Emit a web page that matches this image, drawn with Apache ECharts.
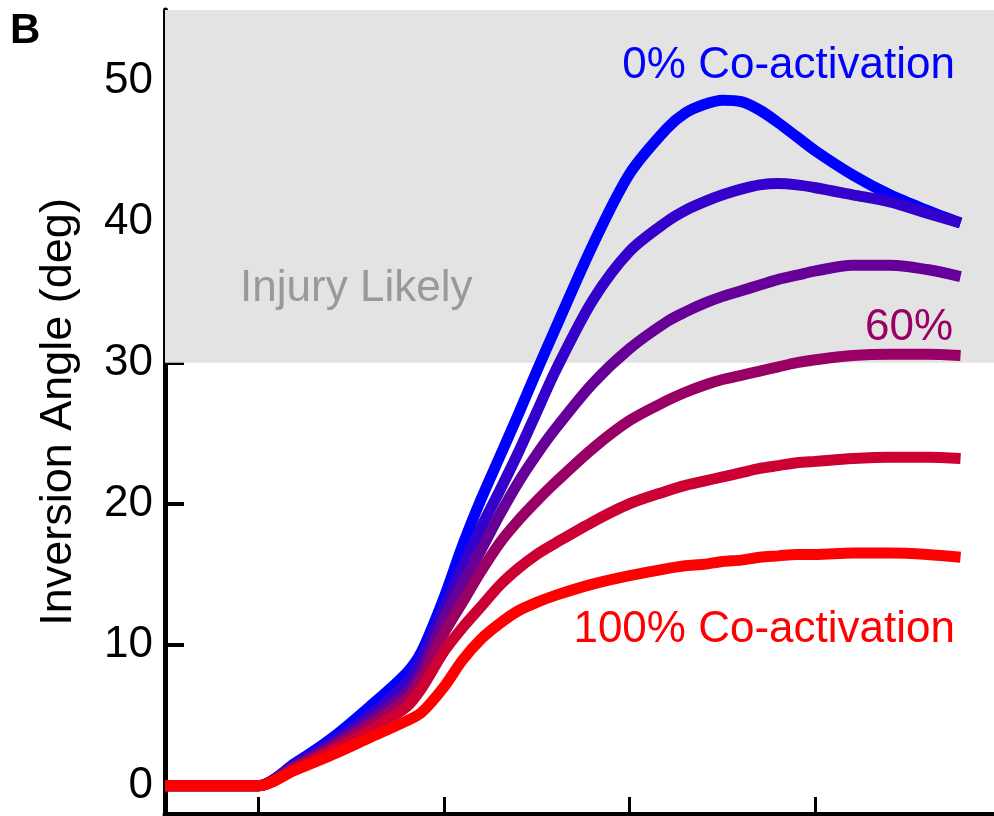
<!DOCTYPE html>
<html>
<head>
<meta charset="utf-8">
<script src="https://cdn.jsdelivr.net/npm/echarts@6/dist/echarts.min.js"></script>
<style>
html,body{margin:0;padding:0;background:#fff;}
#chart{width:994px;height:816px;}
</style>
</head>
<body>
<div id="chart"></div>
<script>
// x positions (time units; ticks at 0, 50, 100, 150)
const xValues = [-25, 0, 10, 20, 30, 40, 44, 50, 55, 60, 65, 70, 75, 80, 90, 100, 110, 115, 120, 125, 130, 135, 140, 145, 150, 160, 170, 180, 189];
const coact0   = [0, 0, 1.6, 3.4, 5.6, 8.0, 9.5, 13.3, 17.0, 20.3, 23.3, 26.3, 29.4, 32.4, 38.3, 43.4, 46.6, 47.7, 48.3, 48.6, 48.5, 47.9, 47.0, 46.0, 45.0, 43.3, 41.9, 40.8, 39.9];
const coact20  = [0, 0, 1.5, 3.1, 5.0, 7.3, 9.0, 12.6, 15.5, 18.3, 20.9, 23.6, 26.5, 29.4, 34.4, 37.9, 40.0, 40.8, 41.4, 41.9, 42.3, 42.6, 42.7, 42.6, 42.4, 41.9, 41.4, 40.6, 39.9];
const coact40  = [0, 0, 1.4, 2.9, 4.6, 6.6, 8.1, 11.8, 14.3, 16.7, 19.2, 21.5, 23.5, 25.3, 28.5, 31.0, 32.9, 33.6, 34.2, 34.7, 35.1, 35.5, 35.9, 36.2, 36.5, 36.9, 36.9, 36.6, 36.1];
const coact60  = [0, 0, 1.3, 2.7, 4.3, 6.2, 7.6, 10.8, 13.0, 15.2, 17.2, 18.8, 20.2, 21.5, 23.9, 25.9, 27.3, 27.9, 28.4, 28.8, 29.1, 29.4, 29.7, 30.0, 30.2, 30.5, 30.6, 30.6, 30.5];
const coact80  = [0, 0, 1.2, 2.5, 3.9, 5.6, 6.9, 9.5, 11.2, 12.7, 14.2, 15.4, 16.4, 17.2, 18.7, 20.0, 20.9, 21.3, 21.6, 21.9, 22.2, 22.5, 22.7, 22.9, 23.0, 23.2, 23.3, 23.3, 23.2];
const coact100 = [0, 0, 1.1, 2.2, 3.4, 4.6, 5.2, 7.0, 8.9, 10.4, 11.5, 12.4, 13.0, 13.5, 14.3, 14.9, 15.4, 15.6, 15.7, 15.9, 16.0, 16.2, 16.3, 16.4, 16.4, 16.5, 16.5, 16.4, 16.2];
const seriesNames = ['0%', '20%', '40%', '60%', '80%', '100%'];
const seriesColors = ['#0000ff', '#3300cc', '#660099', '#990066', '#cc0033', '#ff0000'];
const yTicks = [0, 10, 20, 30, 40, 50];
const xTicks = [0, 50, 100, 150];
const injuryThreshold = 30;

const allSeries = [coact0, coact20, coact40, coact60, coact80, coact100];
const FONT = '"Liberation Sans", Arial, Helvetica, sans-serif';

const chart = echarts.init(document.getElementById('chart'), null, {renderer: 'canvas'});

const series = allSeries.map((vals, i) => {
  const s = {
    name: seriesNames[i],
    type: 'line',
    data: xValues.map((x, j) => [x, vals[j]]),
    showSymbol: false,
    smooth: 0.3,
    lineStyle: {color: seriesColors[i], width: 11, cap: 'butt', join: 'round'},
    itemStyle: {color: seriesColors[i]},
    z: 2 + i,
    silent: true
  };
  if (i === 0) {
    s.markArea = {
      silent: true,
      itemStyle: {color: '#e3e3e3'},
      data: [[{yAxis: injuryThreshold}, {yAxis: 55}]]
    };
  }
  return s;
});

chart.setOption({
  animation: false,
  backgroundColor: '#ffffff',
  grid: {left: 165, right: 0, top: 10, bottom: 2},
  xAxis: {
    type: 'value',
    min: -25, max: 198,
    axisLine: {show: true, onZero: false, lineStyle: {color: '#000', width: 5}},
    axisTick: {show: true, inside: true, length: 17, customValues: xTicks, lineStyle: {color: '#000', width: 3}},
    axisLabel: {show: false},
    splitLine: {show: false}
  },
  yAxis: {
    type: 'value',
    min: -2, max: 55,
    name: 'Inversion Angle (deg)',
    nameLocation: 'middle',
    nameGap: 84,
    nameTextStyle: {fontSize: 45, color: '#000', fontFamily: FONT},
    axisLine: {show: true, onZero: false, lineStyle: {color: '#000', width: 5}},
    axisTick: {show: true, inside: true, length: 19, customValues: yTicks, lineStyle: {color: '#000', width: 4}},
    axisLabel: {show: true, customValues: yTicks, fontSize: 44, color: '#000', fontFamily: FONT, margin: 12},
    splitLine: {show: false}
  },
  series: series
});

// text annotations anchored in data coordinates
const annotations = [
  {text: '0% Co-activation', x: 187.5, y: 51.05, align: 'right', color: '#0000ff'},
  {text: '60%', x: 187.0, y: 32.5, align: 'right', color: '#990066'},
  {text: '100% Co-activation', x: 187.5, y: 11.05, align: 'right', color: '#ff0000'},
  {text: 'Injury Likely', x: -4.8, y: 35.2, align: 'left', color: '#999999'}
];
const graphics = annotations.map(a => {
  const p = chart.convertToPixel({gridIndex: 0}, [a.x, a.y]);
  return {
    type: 'text', x: p[0], y: p[1], z: 100,
    style: {text: a.text, fill: a.color, font: '44px ' + FONT, textAlign: a.align, textVerticalAlign: 'middle'}
  };
});
graphics.push({
  type: 'text', x: 10, y: 31, z: 100,
  style: {text: 'B', fill: '#000', font: 'bold 42px ' + FONT, textAlign: 'left', textVerticalAlign: 'middle'}
});
chart.setOption({graphic: graphics});
</script>
</body>
</html>
